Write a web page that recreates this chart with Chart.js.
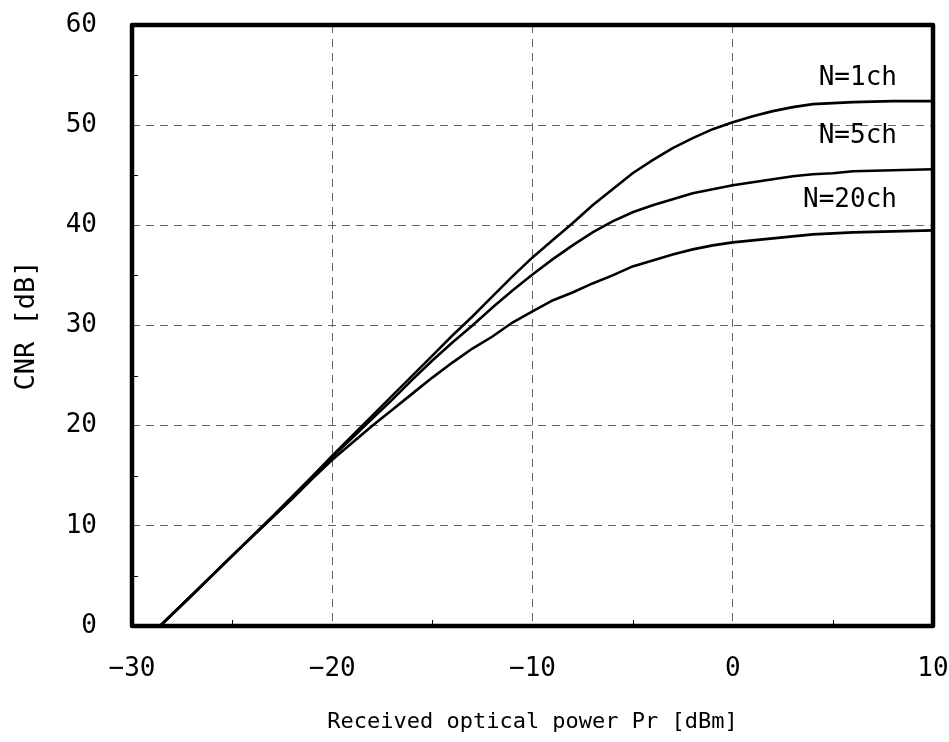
<!DOCTYPE html>
<html>
<head>
<meta charset="utf-8">
<script src="https://cdn.jsdelivr.net/npm/chart.js@4.4.1/dist/chart.umd.min.js"></script>
<style>
  html, body { margin: 0; padding: 0; background: #fff; }
  #wrap { width: 949px; height: 742px; }
</style>
</head>
<body>
<div id="wrap"><canvas id="cnrchart" width="949" height="742"></canvas></div>
<script>
// received optical power [dBm] and CNR [dB]
const powerN1 = [-28.6, -27, -25, -23, -21, -20, -19, -18, -17, -16, -15, -14, -13, -12, -11, -10, -9, -8, -7, -6, -5, -4, -3, -2, -1, 0, 1, 2, 3, 4, 5, 6, 8, 10];
const cnrN1 = [0, 3.1, 7.0, 10.9, 14.9, 17.0, 19.0, 21.0, 23.0, 25.0, 27.0, 29.0, 30.9, 32.9, 34.9, 36.8, 38.5, 40.2, 42.0, 43.6, 45.2, 46.5, 47.7, 48.7, 49.6, 50.3, 50.9, 51.4, 51.8, 52.1, 52.2, 52.3, 52.4, 52.4];

const powerN5 = [-28.6, -27, -25, -23, -21, -20, -19, -18, -17, -16, -15, -14, -13, -12, -11, -10, -9, -8, -7, -6, -5, -4, -3, -2, -1, 0, 1, 2, 3, 4, 5, 6, 8, 10];
const cnrN5 = [0, 3.1, 7.0, 10.9, 14.9, 16.9, 18.8, 20.7, 22.6, 24.6, 26.5, 28.3, 30.0, 31.8, 33.5, 35.1, 36.6, 38.0, 39.3, 40.4, 41.3, 42.0, 42.6, 43.2, 43.6, 44.0, 44.3, 44.6, 44.9, 45.1, 45.2, 45.4, 45.5, 45.6];

const powerN20 = [-28.6, -27, -25, -23, -22, -21, -20, -19, -18, -17, -16, -15, -14, -13, -12, -11, -10, -9, -8, -7, -6, -5, -4, -3, -2, -1, 0, 1, 2, 3, 4, 5, 6, 8, 10];
const cnrN20 = [0, 3.1, 7.0, 10.8, 12.7, 14.7, 16.6, 18.3, 20.0, 21.6, 23.2, 24.8, 26.3, 27.7, 28.9, 30.3, 31.4, 32.5, 33.3, 34.2, 35.0, 35.9, 36.5, 37.1, 37.6, 38.0, 38.3, 38.5, 38.7, 38.9, 39.1, 39.2, 39.3, 39.4, 39.5];

// curve labels (right end of text, data units)
const curveLabels = [
  { text: "N=1ch", x: 8.2, y: 54.7 },
  { text: "N=5ch", x: 8.2, y: 48.9 },
  { text: "N=20ch", x: 8.2, y: 42.5 },
];

const minorX = [-25, -15, -5, 5];
const minorY = [5, 15, 25, 35, 45, 55];

const FONT = "'DejaVu Sans Mono', monospace";

function toPoints(xs, ys) {
  return xs.map((x, i) => ({ x: x, y: ys[i] }));
}

function makeDataset(label, xs, ys) {
  return {
    label: label,
    data: toPoints(xs, ys),
    borderColor: "#000",
    borderWidth: 2.6,
    pointRadius: 0,
    tension: 0,
    fill: false,
  };
}

const decorations = {
  id: "decorations",
  afterDatasetsDraw(chart) {
    const { ctx, chartArea, scales } = chart;
    const xs = scales.x;
    const ys = scales.y;
    ctx.save();

    // minor inward ticks
    ctx.strokeStyle = "#000";
    ctx.lineWidth = 1;
    ctx.beginPath();
    minorX.forEach((v) => {
      const px = Math.round(xs.getPixelForValue(v)) + 0.5;
      ctx.moveTo(px, chartArea.bottom);
      ctx.lineTo(px, chartArea.bottom - 6);
    });
    minorY.forEach((v) => {
      const py = Math.round(ys.getPixelForValue(v)) + 0.5;
      ctx.moveTo(chartArea.left, py);
      ctx.lineTo(chartArea.left + 6, py);
    });
    ctx.stroke();

    // curve labels
    ctx.fillStyle = "#000";
    ctx.font = "26px " + FONT;
    ctx.textAlign = "right";
    ctx.textBaseline = "middle";
    curveLabels.forEach((l) => {
      ctx.fillText(l.text, xs.getPixelForValue(l.x), ys.getPixelForValue(l.y));
    });

    // heavy frame
    ctx.lineWidth = 4.5;
    ctx.lineJoin = "round";
    ctx.strokeRect(chartArea.left, chartArea.top, chartArea.right - chartArea.left, chartArea.bottom - chartArea.top);
    ctx.restore();
  },
};

const gridStyle = {
  color: "#666",
  lineWidth: 1,
  drawTicks: false,
};

const ctx = document.getElementById("cnrchart").getContext("2d");
const cnrchart = new Chart(ctx, {
  type: "line",
  data: {
    datasets: [
      makeDataset("N=1ch", powerN1, cnrN1),
      makeDataset("N=5ch", powerN5, cnrN5),
      makeDataset("N=20ch", powerN20, cnrN20),
    ],
  },
  options: {
    responsive: false,
    animation: false,
    layout: { padding: { top: 25, right: 16, bottom: 0, left: 0 } },
    plugins: {
      legend: { display: false },
      tooltip: { enabled: false },
    },
    scales: {
      x: {
        type: "linear",
        min: -30,
        max: 10,
        ticks: {
          stepSize: 10,
          padding: 28,
          color: "#000",
          font: { family: FONT, size: 26 },
          maxRotation: 0,
          callback: (v) => (v < 0 ? "\u2212" + Math.abs(v) : String(v)),
        },
        grid: gridStyle,
        border: { display: false, dash: [8, 6] },
        title: {
          display: true,
          text: "Received optical power Pr [dBm]",
          color: "#000",
          font: { family: FONT, size: 22 },
          padding: { top: 0, bottom: 7 },
        },
        afterFit: (scale) => {
          scale.height = 116;
          scale.paddingLeft = 0;
          scale.paddingRight = 0;
        },
      },
      y: {
        type: "linear",
        min: 0,
        max: 60,
        ticks: {
          stepSize: 10,
          padding: 35,
          color: "#000",
          font: { family: FONT, size: 26 },
        },
        grid: gridStyle,
        border: { display: false, dash: [8, 6] },
        title: {
          display: true,
          text: "CNR [dB]",
          color: "#000",
          font: { family: FONT, size: 27 },
          padding: { top: 11, bottom: 0 },
        },
        afterFit: (scale) => {
          scale.width = 132;
          scale.paddingTop = 0;
          scale.paddingBottom = 0;
        },
      },
    },
  },
  plugins: [decorations],
});
</script>
</body>
</html>
